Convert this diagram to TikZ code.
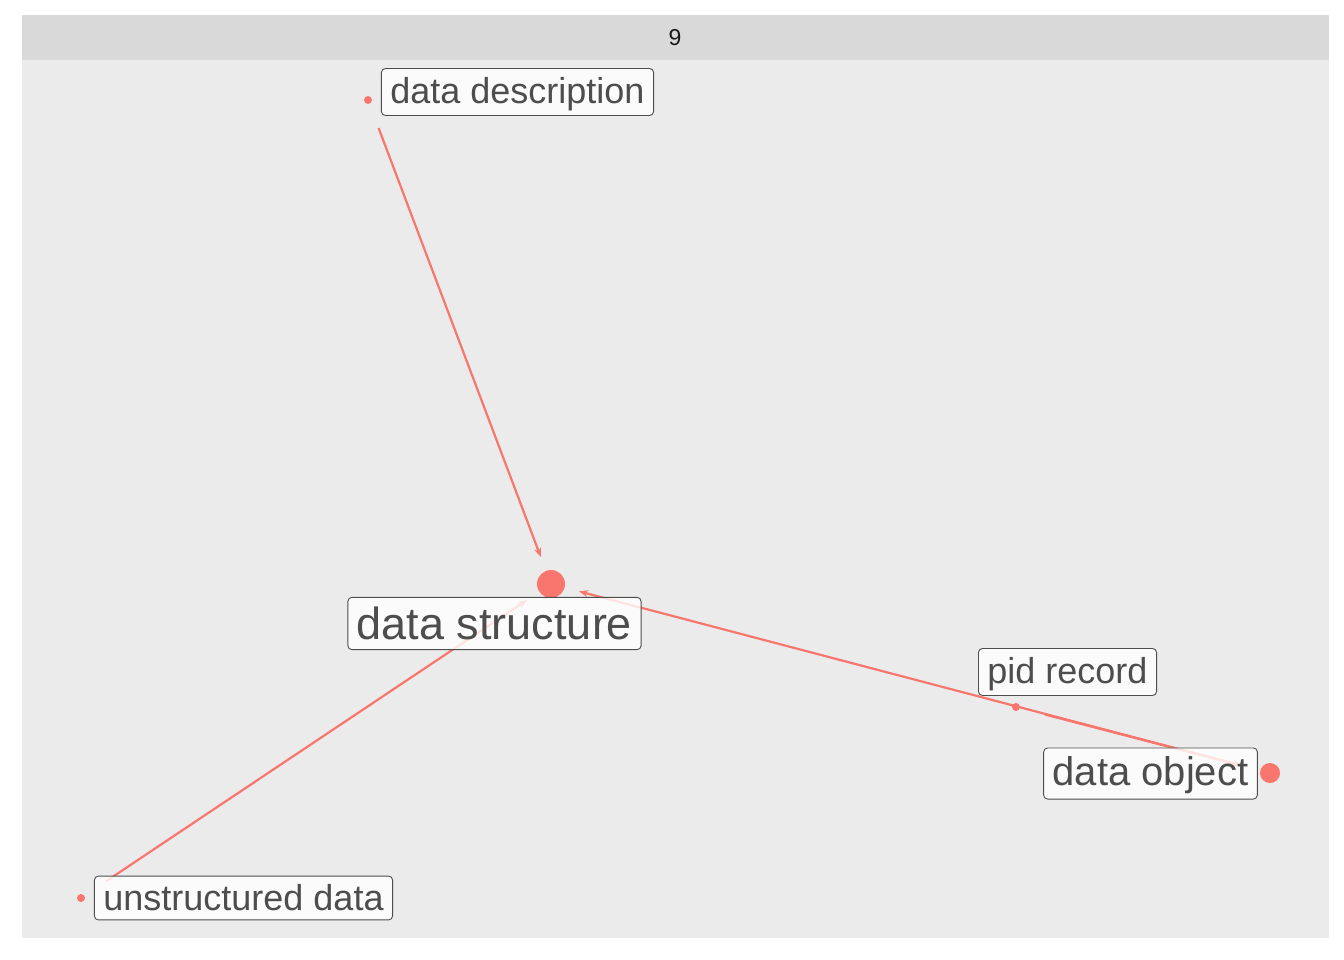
\documentclass[tikz,border=0pt]{standalone}
\usepackage{fontspec}
\setmainfont{Liberation Sans}
\usetikzlibrary{arrows.meta}
\definecolor{ggred}{HTML}{F8766D}
\definecolor{panelgray}{HTML}{EBEBEB}
\definecolor{stripgray}{HTML}{D9D9D9}
\definecolor{labeltext}{HTML}{4D4D4D}
\newcommand{\lblstrut}{\rule[-0.12em]{0pt}{0.94em}}

\begin{document}
\begin{tikzpicture}[x=1pt,y=-1pt,
  dot/.style={circle,fill=ggred,inner sep=0pt},
  lbl/.style={rectangle,rounded corners=4pt,draw=labeltext,line width=0.9pt,fill=white,fill opacity=0.8,text opacity=1,text=labeltext,inner xsep=9pt,inner ysep=5pt,execute at begin node=\lblstrut},
  edge/.style={draw=ggred,line width=2.2pt,shorten <=30pt,shorten >=29pt,-{Stealth[length=9pt,width=7pt]}}]
\useasboundingbox (0,0) rectangle (1344,960);
\fill[white] (0,0) rectangle (1344,960);
\fill[panelgray] (22,60) rectangle (1329,938);
\fill[stripgray] (22,15) rectangle (1329,60);
\node[text=black!90,font=\fontsize{23}{26}\selectfont](facet) at (675,38){9};
% points
\node[dot,minimum size=8pt](ddesc) at (368,100){};
\node[dot,minimum size=28pt](dstruct) at (551,584){};
\node[dot,minimum size=8pt](pidrec) at (1016,707){};
\node[dot,minimum size=20pt](dobj) at (1270,773){};
\node[dot,minimum size=8pt](udata) at (81,898){};
% edges
\draw[edge] (ddesc.center) -- (dstruct.center);
\draw[edge] (udata.center) -- (dstruct.center);
\draw[edge] (dobj.center) -- (dstruct.center);
\draw[edge] (pidrec.center) -- (dobj.center);
% labels
\node[lbl,font=\fontsize{36}{40}\selectfont](ddesclbl) at (517.5,92){data description};
\node[lbl,font=\fontsize{45}{50}\selectfont](dstructlbl) at (494.5,623.5){data structure};
\node[lbl,font=\fontsize{36}{40}\selectfont](pidreclbl) at (1067.5,672){pid record};
\node[lbl,font=\fontsize{40}{44}\selectfont](dobjlbl) at (1150.5,773.5){data object};
\node[lbl,font=\fontsize{36}{40}\selectfont](udatalbl) at (243.5,898){unstructured data};
\end{tikzpicture}
\end{document}
